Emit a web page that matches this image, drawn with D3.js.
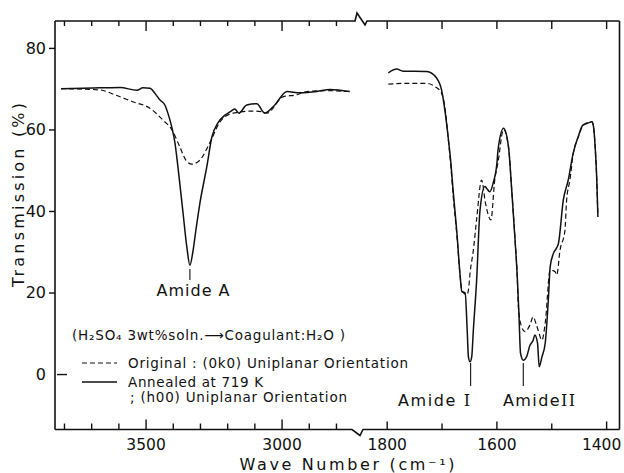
<!DOCTYPE html>
<html>
<head>
<meta charset="utf-8">
<script src="https://cdn.jsdelivr.net/npm/d3@7"></script>
<style>
  body { margin: 0; background: #fff; }
  text { font-family: "DejaVu Sans", sans-serif; fill: #111; }
</style>
</head>
<body>
<script>
// ---- data (wave number in cm-1, transmission in %) ----
// high wave number part, solid = annealed at 719 K
var wnHighAnnealed = [3811, 3668, 3594, 3532, 3510, 3484, 3466, 3447, 3429, 3418, 3403, 3392, 3381, 3363, 3348, 3337, 3326, 3315, 3300, 3275, 3256, 3234, 3208, 3190, 3172, 3157, 3128, 3091, 3062, 3025, 2980, 2933, 2870, 2822, 2749];
var tHighAnnealed  = [70.0, 70.2, 70.3, 69.6, 70.2, 70.1, 68.9, 67.2, 66.0, 64.0, 60.4, 56.7, 50.8, 40.0, 31.0, 26.7, 30.0, 35.3, 42.0, 50.8, 58.2, 61.6, 63.5, 64.3, 65.0, 64.0, 66.0, 66.3, 64.0, 66.0, 69.3, 69.0, 69.3, 69.8, 69.3];
// high wave number part, dashed = original
var wnHighOriginal = [3811, 3668, 3613, 3547, 3484, 3436, 3403, 3374, 3352, 3330, 3300, 3264, 3227, 3179, 3106, 3069, 3054, 2995, 2944, 2907, 2822, 2760];
var tHighOriginal  = [70.0, 69.7, 68.5, 66.8, 65.2, 62.3, 59.9, 55.7, 52.5, 51.5, 52.5, 56.7, 61.8, 64.0, 64.5, 64.3, 64.0, 68.0, 68.5, 69.3, 69.5, 69.3];
// low wave number part, solid = annealed
var wnLowAnnealed = [1797, 1782, 1770, 1727, 1709, 1700, 1694, 1688, 1683, 1679, 1672, 1666, 1663, 1657, 1653, 1651, 1648, 1645, 1642, 1636, 1630, 1621, 1618, 1612, 1606, 1599, 1597, 1587, 1578, 1572, 1566, 1562, 1559, 1556, 1551, 1545, 1539, 1533, 1530, 1525, 1522, 1517, 1511, 1505, 1502, 1496, 1490, 1487, 1478, 1469, 1460, 1451, 1442, 1432, 1426, 1423, 1420, 1417, 1415];
var tLowAnnealed  = [73.9, 74.8, 74.3, 74.2, 72.6, 69.7, 64.8, 58.2, 51.8, 45.2, 34.6, 23.9, 20.2, 19.9, 10.0, 4.2, 3.0, 4.2, 10.8, 23.1, 40.0, 46.0, 45.6, 44.7, 46.8, 51.8, 55.0, 60.3, 55.8, 45.0, 32.9, 24.0, 15.0, 5.1, 3.4, 4.2, 7.0, 8.3, 9.6, 7.6, 1.8, 4.2, 7.6, 19.0, 26.3, 29.6, 31.0, 32.0, 42.7, 47.6, 54.2, 58.2, 61.1, 61.6, 61.9, 60.7, 55.8, 47.6, 38.6];
// low wave number part, dashed = original
var wnLowOriginal = [1797, 1770, 1727, 1712, 1700, 1694, 1688, 1683, 1679, 1672, 1666, 1663, 1654, 1651, 1648, 1642, 1636, 1627, 1620, 1610, 1603, 1597, 1587, 1578, 1572, 1566, 1562, 1560, 1554, 1548, 1539, 1533, 1527, 1524, 1517, 1511, 1502, 1493, 1490, 1484, 1475, 1472, 1466, 1460, 1451, 1442, 1426, 1423, 1420, 1417, 1415];
var tLowOriginal  = [71.1, 71.3, 71.3, 70.5, 68.9, 65.6, 58.0, 51.0, 44.0, 34.0, 24.0, 20.6, 19.4, 20.6, 24.8, 30.4, 38.0, 47.6, 42.0, 37.8, 47.6, 52.0, 60.0, 55.8, 45.0, 33.0, 24.0, 16.5, 11.6, 10.4, 12.0, 14.0, 12.0, 10.8, 8.3, 12.5, 25.5, 25.1, 24.3, 30.4, 35.3, 42.7, 47.6, 54.0, 58.0, 61.0, 61.9, 60.7, 55.8, 47.6, 38.6];

var yTicks = [0, 20, 40, 60, 80];
var highMajor = [3500, 3000];
var highMinor = [3800, 3700, 3600, 3400, 3300, 3200, 3100, 2900, 2800];
var lowMajor = [1800, 1600, 1400];
var lowMinor = [1700, 1500];

document.addEventListener("DOMContentLoaded", function(){
  // Set constants
  var width = 624;
  var height = 473;
  var pLeft = 55, pRight = 619.5, pTop = 21, pBottom = 429.5;

  var svg = d3.select("body").append("svg")
              .attr("width", width)
              .attr("height", height)
              .style("background", "#fff");

  // scales: two x pieces with a break between them
  var xHigh = d3.scaleLinear().domain([3833, 2730]).range([pLeft, 355]);
  var xLow  = d3.scaleLinear().domain([1845, 1375.6]).range([362, pRight]);
  var yScale = d3.scaleLinear().domain([-13.6, 86.6]).range([pBottom, pTop]);

  // frame with break marks
  var frame = svg.append("g").attr("fill", "none").attr("stroke", "#111").attr("stroke-width", 1.6);
  frame.append("path").attr("d", "M" + pLeft + "," + pTop + " H355 L357," + (pTop - 8) + " L365," + (pTop + 4) + " L367," + pTop + " H" + pRight);
  frame.append("path").attr("d", "M" + pLeft + "," + pBottom + " H352 L360," + (pBottom + 6) + " L363," + pBottom + " H" + pRight);
  frame.append("path").attr("d", "M" + pLeft + "," + pTop + " V" + pBottom);
  frame.append("path").attr("d", "M" + pRight + "," + pTop + " V" + pBottom);

  function styleAxis(g) {
    g.select(".domain").remove();
    g.selectAll("line").attr("stroke", "#111").attr("stroke-width", 1.4);
    g.selectAll("text").style("font-family", "DejaVu Sans").style("font-size", "15.5px").attr("fill", "#111");
  }

  // bottom axes (ticks point inward)
  svg.append("g").attr("transform", "translate(0," + pBottom + ")")
    .call(d3.axisBottom(xHigh).tickValues(highMajor).tickSize(-10).tickPadding(9).tickFormat(d3.format("d"))).call(styleAxis);
  svg.append("g").attr("transform", "translate(0," + pBottom + ")")
    .call(d3.axisBottom(xHigh).tickValues(highMinor).tickSize(-6).tickFormat("")).call(styleAxis);
  var lowAx = svg.append("g").attr("transform", "translate(0," + pBottom + ")")
    .call(d3.axisBottom(xLow).tickValues(lowMajor).tickSize(-8).tickPadding(9).tickFormat(d3.format("d"))).call(styleAxis);
  lowAx.selectAll(".tick").filter(function(d) { return d === 1400; }).select("text").attr("dx", -5);
  svg.append("g").attr("transform", "translate(0," + pBottom + ")")
    .call(d3.axisBottom(xLow).tickValues(lowMinor).tickSize(-6).tickFormat("")).call(styleAxis);
  // top axes
  svg.append("g").attr("transform", "translate(0," + pTop + ")")
    .call(d3.axisTop(xHigh).tickValues(highMajor).tickSize(-10).tickFormat("")).call(styleAxis);
  svg.append("g").attr("transform", "translate(0," + pTop + ")")
    .call(d3.axisTop(xHigh).tickValues(highMinor).tickSize(-5).tickFormat("")).call(styleAxis);
  svg.append("g").attr("transform", "translate(0," + pTop + ")")
    .call(d3.axisTop(xLow).tickValues(lowMajor.concat(lowMinor)).tickSize(-8).tickFormat("")).call(styleAxis);

  // left axis
  var yAx = svg.append("g").attr("transform", "translate(" + pLeft + ",0)")
    .call(d3.axisLeft(yScale).tickValues(yTicks).tickSize(6).tickPadding(3)).call(styleAxis);
  yAx.selectAll("text").style("font-size", "16px");
  yAx.selectAll(".tick").filter(function(d) { return d === 0; }).select("line").attr("x1", 2).attr("x2", 12);

  // spectra
  var line = function(xs) {
    return d3.line()
      .x(function(d) { return xs(d[0]); })
      .y(function(d) { return yScale(d[1]); })
      .curve(d3.curveMonotoneX);
  };
  function pairs(a, b) { return a.map(function(v, i) { return [v, b[i]]; }); }

  var curves = svg.append("g").attr("fill", "none").attr("stroke", "#111");
  curves.append("path").attr("d", line(xHigh)(pairs(wnHighOriginal, tHighOriginal)))
    .attr("stroke-width", 1.2).attr("stroke-dasharray", "5,3");
  curves.append("path").attr("d", line(xHigh)(pairs(wnHighAnnealed, tHighAnnealed)))
    .attr("stroke-width", 1.5);
  curves.append("path").attr("d", line(xLow)(pairs(wnLowOriginal, tLowOriginal)))
    .attr("stroke-width", 1.2).attr("stroke-dasharray", "5,3");
  curves.append("path").attr("d", line(xLow)(pairs(wnLowAnnealed, tLowAnnealed)))
    .attr("stroke-width", 1.5);

  // peak markers
  var marks = svg.append("g").attr("stroke", "#111").attr("stroke-width", 1.1);
  marks.append("line").attr("x1", xHigh(3337)).attr("x2", xHigh(3337)).attr("y1", 269).attr("y2", 280);
  marks.append("line").attr("x1", xLow(1647)).attr("x2", xLow(1647)).attr("y1", 363).attr("y2", 386);
  marks.append("line").attr("x1", xLow(1551)).attr("x2", xLow(1551)).attr("y1", 363).attr("y2", 386);

  svg.append("text").attr("x", 193).attr("y", 296).attr("text-anchor", "middle")
    .style("font-size", "16px").attr("textLength", 73).text("Amide A");
  var a1 = svg.append("text").attr("x", 398).attr("y", 406).style("font-size", "16px").attr("textLength", 72);
  a1.append("tspan").text("Amide ");
  a1.append("tspan").style("font-family", "DejaVu Serif").text("I");
  var a2 = svg.append("text").attr("x", 503).attr("y", 406).style("font-size", "16px").attr("textLength", 72);
  a2.append("tspan").text("Amide");
  a2.append("tspan").style("font-family", "DejaVu Serif").text("II");

  // axis titles
  svg.append("text").attr("transform", "translate(24,195) rotate(-90)").attr("text-anchor", "middle")
    .style("font-size", "16px").attr("textLength", 184).text("Transmission (%)");
  svg.append("text").attr("x", 347).attr("y", 470).attr("text-anchor", "middle")
    .style("font-size", "16px").attr("textLength", 215).text("Wave Number (cm\u207B\u00B9)");

  // legend
  var leg = svg.append("g");
  leg.append("text").attr("x", 72).attr("y", 340).style("font-size", "13.5px").attr("textLength", 273)
    .text("(H\u2082SO\u2084 3wt%soln.\u27F6Coagulant:H\u2082O )");
  leg.append("line").attr("x1", 82).attr("x2", 117).attr("y1", 363).attr("y2", 363)
    .attr("stroke", "#111").attr("stroke-width", 1.2).attr("stroke-dasharray", "5,3");
  leg.append("text").attr("x", 128).attr("y", 368).style("font-size", "13.5px").attr("textLength", 280)
    .text("Original : (0k0) Uniplanar Orientation");
  leg.append("line").attr("x1", 82).attr("x2", 117).attr("y1", 382).attr("y2", 382)
    .attr("stroke", "#111").attr("stroke-width", 1.4);
  leg.append("text").attr("x", 128).attr("y", 387).style("font-size", "13.5px").attr("textLength", 135)
    .text("Annealed at 719 K");
  leg.append("text").attr("x", 130).attr("y", 402).style("font-size", "13.5px").attr("textLength", 217)
    .text("; (h00) Uniplanar Orientation");
});
</script>
</body>
</html>
